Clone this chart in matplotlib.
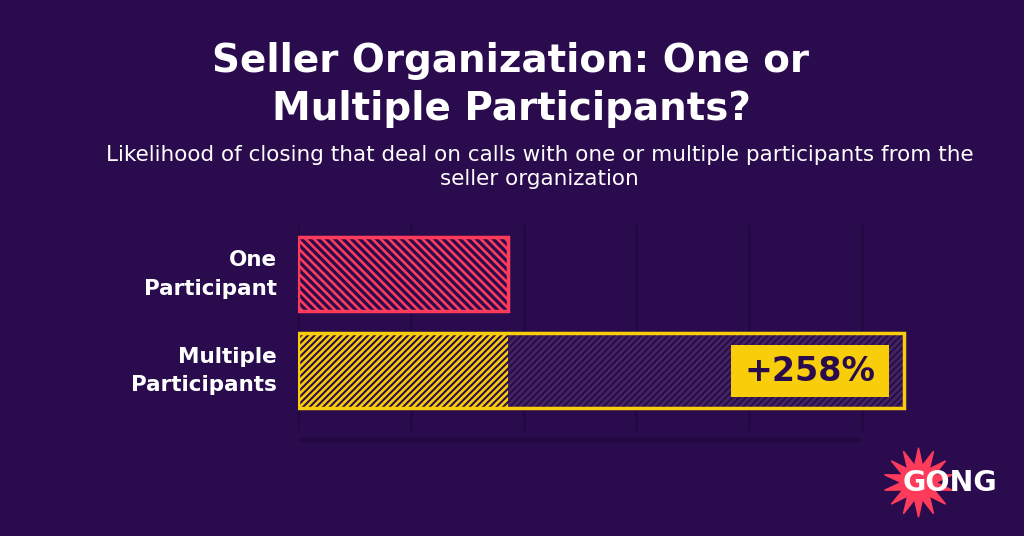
import numpy as np
import matplotlib.pyplot as plt
import matplotlib.transforms as mtransforms
from matplotlib.patches import Rectangle

plt.rcParams['font.family'] = ['DejaVu Sans']
plt.rcParams['hatch.linewidth'] = 1.9

bg = '#2a0b4d'
red = '#ff3b5c'
yellow = '#f8ce0b'
grid_col = '#230943'
dim_hatch = '#44265e'

categories = ['One\nParticipant', 'Multiple\nParticipants']
one_value = 1.86
multi_value = 5.37
grid_ticks = [0, 1, 2, 3, 4, 5]
uplift_label = '+258%'

fig = plt.figure(figsize=(10.24, 5.36), dpi=100, facecolor=bg)
ax = fig.add_axes([298 / 1024, 1 - 443 / 536, 622 / 1024, 222 / 536])
ax.set_facecolor(bg)
ax.set_xlim(0, 5.514)
ax.set_ylim(1.75, -0.55)

# grid + baseline
ax.vlines(grid_ticks, -0.51, 1.62, color=grid_col, lw=2, zorder=0)
ax.hlines(1.72, grid_ticks[0], grid_ticks[-1], color=grid_col, lw=3, zorder=0)

h = 0.77
# one participant
ax.barh(0, one_value, height=h, color=bg, edgecolor=red, hatch='\\' * 4, lw=2.5, zorder=2)

# multiple participants: base part + uplift part + outline
ax.barh(1, one_value, height=h, color=bg, edgecolor=yellow, hatch='/' * 5, lw=0, zorder=2)
ax.barh(1, multi_value - one_value, left=one_value, height=h, color=bg,
        edgecolor=dim_hatch, hatch='/' * 5, lw=0, zorder=2)
ax.barh(1, multi_value, height=h, fill=False, edgecolor=yellow, lw=2.5, zorder=3)

# uplift badge
ax.add_patch(Rectangle((3.84, 1 - 0.27), 1.40, 0.54, facecolor=yellow, edgecolor='none', zorder=4))
ax.text(4.54, 1.01, uplift_label, ha='center', va='center', fontsize=24,
        fontweight='bold', color=bg, zorder=5)

ax.set_yticks([0, 1])
ax.set_yticklabels(categories, fontsize=15.5, fontweight='bold', color='white', linespacing=1.55)
ax.tick_params(axis='y', length=0, pad=15)
shift = mtransforms.ScaledTranslation(0, 6 / 100, fig.dpi_scale_trans)
for lbl in ax.get_yticklabels():
    lbl.set_transform(lbl.get_transform() + shift)
ax.set_xticks([])
for s in ax.spines.values():
    s.set_visible(False)

fig.text(0.499, 1 - 85 / 536, 'Seller Organization: One or\nMultiple Participants?',
         ha='center', va='center', fontsize=28, fontweight='bold', color='white', linespacing=1.3)
fig.text(0.527, 1 - 167 / 536,
         'Likelihood of closing that deal on calls with one or multiple participants from the\nseller organization',
         ha='center', va='center', fontsize=15.5, color='white', linespacing=1.22)

# logo
lax = fig.add_axes([0, 0, 1, 1])
lax.set_xlim(0, 1024)
lax.set_ylim(536, 0)
lax.axis('off')
lax.plot([918], [482], marker=(14, 1, 0), markersize=50, color=red, mec=red)
lax.text(903, 483, 'GONG', ha='left', va='center', fontsize=20.5, fontweight='bold', color='white')

fig.savefig('out.png', dpi=100, facecolor=bg)
